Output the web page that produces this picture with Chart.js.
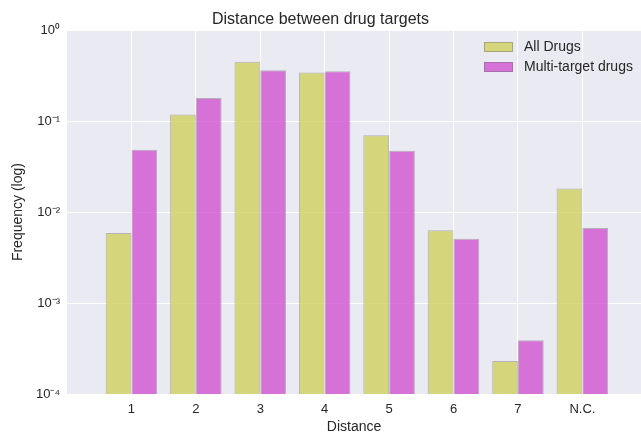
<!DOCTYPE html>
<html>
<head>
<meta charset="utf-8">
<script src="https://cdn.jsdelivr.net/npm/chart.js@4/dist/chart.umd.min.js"></script>
<style>
  html, body { margin: 0; padding: 0; background: #ffffff; }
  #wrap { width: 641px; height: 433px; }
</style>
</head>
<body>
<div id="wrap"><canvas id="chart1"></canvas></div>
<script>
// categories on the x axis and the two series (frequencies, log scale)
const categories = ['1', '2', '3', '4', '5', '6', '7', 'N.C.'];
const allDrugs = [0.0059, 0.118, 0.449, 0.343, 0.070, 0.0063, 0.00023, 0.0182];
const multiTarget = [0.0484, 0.180, 0.363, 0.354, 0.0472, 0.0051, 0.00039, 0.0067];
const yTicks = [0.0001, 0.001, 0.01, 0.1, 1];

const supers = { '0': '\u2070', '1': '\u00b9', '2': '\u00b2', '3': '\u00b3', '4': '\u2074', '-': '\u207b' };
function pow10Label(v) {
  const e = String(Math.round(Math.log10(v)));
  return '10' + e.split('').map(c => supers[c]).join('');
}

const FONT = "'Liberation Sans', Arial, sans-serif";
const TEXT = '#262626';

// paint the grey-blue plot background
const plotBackground = {
  id: 'plotBackground',
  beforeDraw(chart) {
    const { ctx, chartArea: a } = chart;
    ctx.save();
    ctx.fillStyle = '#eaeaf2';
    ctx.fillRect(a.left, a.top, a.right - a.left, a.bottom - a.top);
    ctx.restore();
  }
};

// legend inside the plot, upper right
const innerLegend = {
  id: 'innerLegend',
  afterDraw(chart) {
    const { ctx } = chart;
    ctx.save();
    ctx.font = '14px ' + FONT;
    ctx.textBaseline = 'middle';
    chart.data.datasets.forEach((ds, i) => {
      const y = 47 + i * 20;
      ctx.fillStyle = ds.backgroundColor;
      ctx.fillRect(484, y - 5, 29, 10);
      ctx.strokeStyle = ds.borderColor;
      ctx.lineWidth = 1;
      ctx.strokeRect(484.5, y - 4.5, 28, 9);
      ctx.fillStyle = TEXT;
      ctx.fillText(ds.label, 524, y);
    });
    ctx.restore();
  }
};

const chart1Ctx = document.getElementById('chart1').getContext('2d');
window.myBarChart = new Chart(chart1Ctx, {
  type: 'bar',
  data: {
    datasets: [
      {
        label: 'All Drugs',
        data: allDrugs.map((v, i) => ({ x: i + 1, y: v })),
        backgroundColor: 'rgba(207, 208, 92, 0.8)',
        borderColor: 'rgba(110, 110, 110, 0.45)',
        borderWidth: 1,
        barPercentage: 1.0,
        categoryPercentage: 0.8,
      },
      {
        label: 'Multi-target drugs',
        data: multiTarget.map((v, i) => ({ x: i + 1, y: v })),
        backgroundColor: 'rgba(209, 84, 207, 0.8)',
        borderColor: 'rgba(110, 110, 110, 0.45)',
        borderWidth: 1,
        barPercentage: 1.0,
        categoryPercentage: 0.8,
      },
    ],
  },
  options: {
    responsive: true,
    maintainAspectRatio: false,
    animation: false,
    layout: { padding: { left: 0, right: 0, top: 0, bottom: 0 } },
    plugins: {
      legend: { display: false },
      tooltip: { enabled: false },
      title: {
        display: true,
        text: 'Distance between drug targets',
        color: TEXT,
        font: { family: FONT, size: 16, weight: 'normal' },
        padding: { top: 10, bottom: 1 },
      },
    },
    scales: {
      x: {
        type: 'linear',
        min: 0,
        max: 8.91,
        offset: false,
        afterBuildTicks(scale) {
          scale.ticks = categories.map((c, i) => ({ value: i + 1 }));
        },
        afterFit(scale) { scale.height = 39; },
        ticks: {
          color: TEXT,
          font: { family: FONT, size: 13 },
          padding: 8,
          maxRotation: 0,
          callback: (v) => categories[v - 1],
        },
        grid: { color: '#ffffff', lineWidth: 1, drawTicks: false, offset: false },
        border: { display: false },
        title: {
          display: true,
          text: 'Distance',
          color: TEXT,
          font: { family: FONT, size: 14 },
          padding: { top: 0, bottom: -3 },
        },
      },
      y: {
        type: 'logarithmic',
        min: 0.0001,
        max: 1,
        afterBuildTicks(scale) {
          scale.ticks = yTicks.map(v => ({ value: v, major: true }));
        },
        afterFit(scale) { scale.width = 67; },
        ticks: {
          color: TEXT,
          font: { family: FONT, size: 13 },
          padding: 7,
          callback: (v) => pow10Label(v),
        },
        grid: { color: '#ffffff', lineWidth: 1, drawTicks: false },
        border: { display: false },
        title: {
          display: true,
          text: 'Frequency (log)',
          color: TEXT,
          font: { family: FONT, size: 14 },
          padding: { top: 10, bottom: 0 },
        },
      },
    },
  },
  plugins: [plotBackground, innerLegend],
});
</script>
</body>
</html>
